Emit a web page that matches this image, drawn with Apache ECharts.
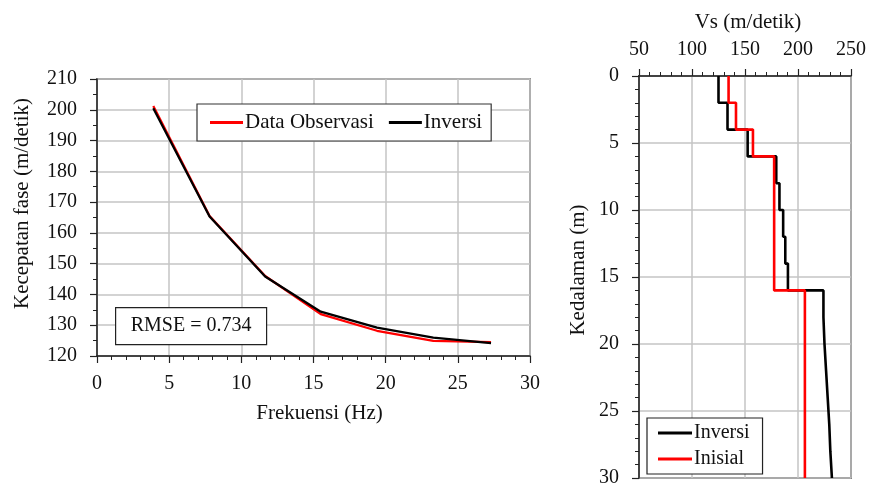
<!DOCTYPE html>
<html>
<head>
<meta charset="utf-8">
<script src="https://cdn.jsdelivr.net/npm/echarts@6/dist/echarts.min.js"></script>
<style>
  html, body { margin: 0; padding: 0; background: #fff; }
  #chart { width: 871px; height: 489px; }
</style>
</head>
<body>
<div id="chart"></div>
<script>
// kurva dispersi (kiri)
var frekuensi = [3.9, 7.8, 11.65, 15.5, 19.4, 23.3, 27.3];
var dataObservasi = [201.2, 165.5, 146.0, 133.6, 128.2, 124.9, 124.5];
var dataInversi = [200.5, 165.3, 145.8, 134.4, 129.2, 126.0, 124.2];
var rmseText = "RMSE = 0.734";

// profil Vs (kanan)
var depthInv = [0, 2, 4, 6, 8, 10, 12, 14, 16, 18, 20, 22, 24, 26, 28, 30];
var vsInv = [125, 133.5, 152.5, 179.5, 182.5, 186, 188, 190.5, 224, 225, 226.5, 228, 229.5, 230.5, 232];
var depthIni = [0, 2, 4, 6, 16, 30];
var vsIni = [134.5, 141.5, 157.5, 177.5, 206.5];

var font = "'Liberation Serif', 'Times New Roman', serif";
var txt = "#111";
var gridColor = "#c4c4c4";

function pairs(xs, ys) {
  return xs.map(function (x, i) { return [x, ys[i]]; });
}

// bikin titik bertingkat untuk profil kecepatan
function profile(depths, vs) {
  var pts = [];
  for (var i = 0; i < vs.length; i++) {
    pts.push([vs[i], depths[i]]);
    pts.push([vs[i], depths[i + 1]]);
  }
  return pts;
}

var axisCommon = {
  axisLine: { show: true, onZero: false, lineStyle: { color: "#222", width: 1.5 } },
  axisTick: { show: true, length: 7, lineStyle: { color: "#222", width: 1.2 } },
  splitLine: { show: true, lineStyle: { color: gridColor, width: 1.5 } }
};

function ax(extra) {
  return Object.assign({}, JSON.parse(JSON.stringify(axisCommon)), extra);
}

function minor(n) {
  return { show: true, splitNumber: n, length: 4, lineStyle: { color: "#222", width: 1 } };
}

function lbl(margin) {
  return { color: txt, fontFamily: font, fontSize: 20, margin: margin };
}

function nameStyle(pad) {
  return { color: txt, fontFamily: font, fontSize: 21, padding: pad };
}

var chart = echarts.init(document.getElementById("chart"));
var option = {
  backgroundColor: "#fff",
  animation: false,
  grid: [
    { left: 97, right: 341, top: 79, bottom: 133, show: true, borderColor: "#444", borderWidth: 1.5 },
    { left: 639, right: 20, top: 76, bottom: 11, show: true, borderColor: "#222", borderWidth: 1.5 }
  ],
  xAxis: [
    ax({
      type: "value", gridIndex: 0, min: 0, max: 30, interval: 5,
      minorTick: minor(5), axisLabel: lbl(18),
      name: "Frekuensi (Hz)", nameLocation: "middle", nameGap: 47,
      nameTextStyle: nameStyle([0, 0, 0, 12])
    }),
    ax({
      type: "value", gridIndex: 1, position: "top", min: 50, max: 250, interval: 50,
      minorTick: minor(5), axisLabel: lbl(16),
      name: "Vs (m/detik)", nameLocation: "middle", nameGap: 43,
      nameTextStyle: nameStyle([0, 0, 0, 6])
    })
  ],
  yAxis: [
    ax({
      type: "value", gridIndex: 0, min: 120, max: 210, interval: 10,
      minorTick: minor(2), axisLabel: lbl(20),
      name: "Kecepatan fase (m/detik)", nameLocation: "middle", nameGap: 64,
      nameTextStyle: nameStyle([0, 0, 0, 28])
    }),
    ax({
      type: "value", gridIndex: 1, inverse: true, min: 0, max: 30, interval: 5,
      minorTick: minor(5), axisLabel: lbl(20),
      name: "Kedalaman (m)", nameLocation: "middle", nameGap: 50,
      nameTextStyle: nameStyle([0, 0, 0, 14])
    })
  ],
  legend: [
    {
      data: ["Data Observasi", "Inversi"],
      left: 197, top: 104,
      orient: "horizontal",
      icon: "rect", itemWidth: 33, itemHeight: 3, itemGap: 15,
      padding: [8, 9, 8, 13],
      borderColor: "#333", borderWidth: 1.2, backgroundColor: "#fff",
      textStyle: { color: txt, fontFamily: font, fontSize: 21, padding: [0, 0, 0, -3] },
      selectedMode: false
    },
    {
      data: ["Inversi ", "Inisial"],
      left: 647, top: 418,
      orient: "vertical",
      icon: "rect", itemWidth: 34, itemHeight: 3, itemGap: 6,
      padding: [5, 8, 5, 11],
      borderColor: "#222", borderWidth: 1.2, backgroundColor: "#fff",
      textStyle: { color: txt, fontFamily: font, fontSize: 20, padding: [0, 0, 0, -3] },
      selectedMode: false
    }
  ],
  graphic: [
    {
      type: "group", left: 115, top: 307, z: 100,
      children: [
        { type: "rect", z: 100, shape: { x: 0, y: 0, width: 151, height: 37 },
          style: { fill: "#fff", stroke: "#222", lineWidth: 1.2 } },
        { type: "text", z: 101, x: 75.5, y: 18.5,
          style: { text: rmseText, fill: txt, font: "20px " + font, textAlign: "center", textVerticalAlign: "middle" } }
      ]
    }
  ],
  series: [
    {
      name: "Data Observasi", type: "line", xAxisIndex: 0, yAxisIndex: 0,
      data: pairs(frekuensi, dataObservasi), showSymbol: false, symbol: "none",
      lineStyle: { color: "#ff0000", width: 2.3 }, itemStyle: { color: "#ff0000" }, z: 3
    },
    {
      name: "Inversi", type: "line", xAxisIndex: 0, yAxisIndex: 0,
      data: pairs(frekuensi, dataInversi), showSymbol: false, symbol: "none",
      lineStyle: { color: "#000", width: 2.3 }, itemStyle: { color: "#000" }, z: 4
    },
    {
      name: "Inversi ", type: "line", xAxisIndex: 1, yAxisIndex: 1,
      data: profile(depthInv, vsInv), showSymbol: false, symbol: "none",
      lineStyle: { color: "#000", width: 2.6 }, itemStyle: { color: "#000" }, z: 3
    },
    {
      name: "Inisial", type: "line", xAxisIndex: 1, yAxisIndex: 1,
      data: profile(depthIni, vsIni), showSymbol: false, symbol: "none",
      lineStyle: { color: "#ff0000", width: 2.6 }, itemStyle: { color: "#ff0000" }, z: 4
    }
  ]
};
chart.setOption(option);
</script>
</body>
</html>
